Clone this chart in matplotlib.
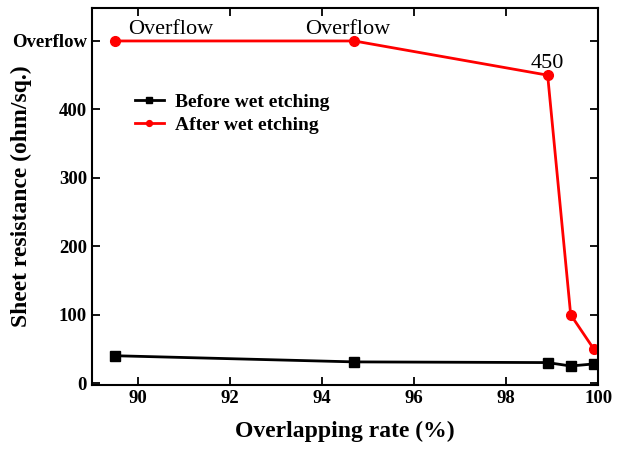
import matplotlib
matplotlib.use("Agg")
import matplotlib.pyplot as plt

# overlapping rate (%) and sheet resistance (ohm/sq.); 500 stands for "Overflow"
rate = [89.5, 94.7, 98.9, 99.4, 99.9]
before = [40, 31, 30, 25, 28]
after = [500, 500, 450, 100, 50]
yticks = [0, 100, 200, 300, 400, 500]
ytick_labels = ["0", "100", "200", "300", "400", "Overflow"]

plt.rcParams["font.family"] = ["Liberation Serif", "DejaVu Serif"]

fig = plt.figure(figsize=(6.2, 4.51), dpi=100)
ax = fig.add_axes([0.148, 0.146, 0.817, 0.836])

ax.plot(rate, before, "-s", color="black", lw=2, ms=7, label="Before wet etching")
ax.plot(rate, after, "-o", color="red", lw=2, ms=7, label="After wet etching")

ax.text(89.78, 503, "Overflow", fontsize=16, ha="left", va="bottom")
ax.text(94.55, 503, "Overflow", fontsize=16, ha="center", va="bottom")
ax.text(98.9, 453, "450", fontsize=16, ha="center", va="bottom")

ax.set_xlim(89, 100)
ax.set_ylim(-3, 548)
ax.set_xticks([90, 92, 94, 96, 98, 100])
ax.set_yticks(yticks)
ax.set_yticklabels(ytick_labels)
ax.tick_params(direction="in", top=True, right=True, width=1.3, length=6, labelsize=13.5)
for lab in ax.get_xticklabels() + ax.get_yticklabels():
    lab.set_fontweight("bold")
for sp in ax.spines.values():
    sp.set_linewidth(1.5)

ax.set_xlabel("Overlapping rate (%)", fontsize=17, fontweight="bold")
ax.set_ylabel("Sheet resistance (ohm/sq.)", fontsize=17, fontweight="bold")
ax.yaxis.set_label_coords(-0.117, 0.5)
ax.xaxis.set_label_coords(0.5, -0.095)

ax.legend(loc="upper left", bbox_to_anchor=(0.05, 0.82), frameon=False,
          prop={"weight": "bold", "size": 14}, handlelength=1.5,
          labelspacing=0.25, markerscale=0.6, handletextpad=0.6)

fig.savefig("out.png", dpi=100)
